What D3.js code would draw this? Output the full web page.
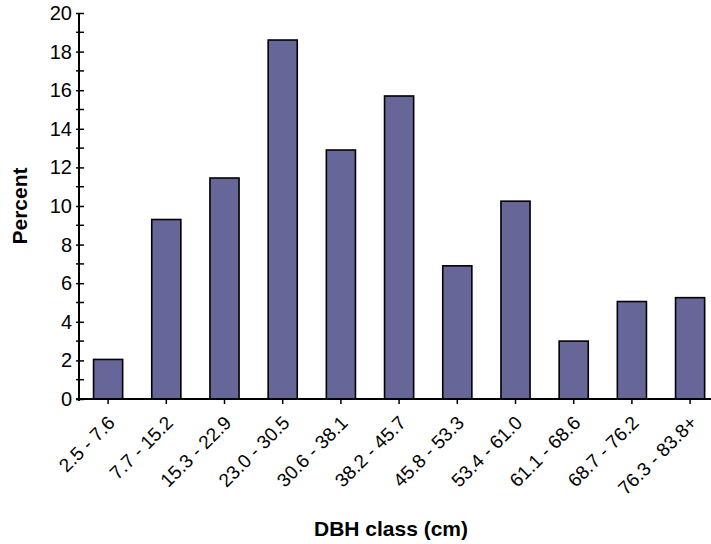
<!DOCTYPE html>
<html>
<head>
<meta charset="utf-8">
<script src="https://cdn.jsdelivr.net/npm/d3@7"></script>
<style>
  body { margin: 0; background: #fff; }
  svg { display: block; }
</style>
</head>
<body>
<div id="chart"></div>
<script>
const classes = ['2.5 - 7.6', '7.7 - 15.2', '15.3 - 22.9', '23.0 - 30.5', '30.6 - 38.1',
  '38.2 - 45.7', '45.8 - 53.3', '53.4 - 61.0', '61.1 - 68.6', '68.7 - 76.2', '76.3 - 83.8+'];
const percents = [2.05, 9.3, 11.45, 18.6, 12.9, 15.7, 6.9, 10.25, 3.0, 5.05, 5.25];
const majorTicks = [0, 2, 4, 6, 8, 10, 12, 14, 16, 18, 20];
const minorTicks = [1, 3, 5, 7, 9, 11, 13, 15, 17, 19];

const font = '"Liberation Sans", Arial, sans-serif';
const width = 711;
const height = 544;
const left = 79; // y axis position
const step = 58.2; // px per class

const svg = d3.select('#chart').append('svg')
  .attr('width', width)
  .attr('height', height)
  .attr('font-family', font);

const x = d3.scaleBand()
  .domain(classes)
  .range([left, left + step * classes.length])
  .paddingInner(0.5)
  .paddingOuter(0.25);

const y = d3.scaleLinear().domain([0, 20]).range([399, 13]);

// bars
svg.append('g').selectAll('rect')
  .data(classes)
  .join('rect')
  .attr('x', d => x(d))
  .attr('width', x.bandwidth())
  .attr('y', (d, i) => y(percents[i]))
  .attr('height', (d, i) => y(0) - y(percents[i]))
  .attr('fill', '#666699')
  .attr('stroke', '#000')
  .attr('stroke-width', 1.6);

// y axis
const yAxis = svg.append('g')
  .attr('transform', `translate(${left},0)`)
  .call(d3.axisLeft(y).tickValues(majorTicks).tickSize(3).tickFormat(d3.format('d')))
  .attr('font-family', font);
yAxis.select('.domain').attr('d', `M0,${y(20)}V${y(0) + 2}`).attr('stroke-width', 2);
yAxis.selectAll('.tick line').attr('x1', -3).attr('x2', 5).attr('stroke-width', 1.5);
yAxis.selectAll('.tick text')
  .style('font-size', '20px')
  .attr('fill', '#000')
  .attr('x', -7);
yAxis.selectAll('.minor')
  .data(minorTicks)
  .join('line')
  .attr('class', 'minor')
  .attr('x1', -3).attr('x2', 5)
  .attr('y1', d => y(d)).attr('y2', d => y(d))
  .attr('stroke', '#000')
  .attr('stroke-width', 1.5);

// x axis
const xAxis = svg.append('g')
  .attr('transform', `translate(0,${y(0)})`)
  .call(d3.axisBottom(x).tickSize(5))
  .attr('font-family', font);
xAxis.select('.domain').attr('d', `M${left - 3},0H${width}`).attr('stroke-width', 2);
xAxis.selectAll('.tick line').attr('stroke-width', 1.5);
xAxis.selectAll('.tick text')
  .style('font-size', '19px')
  .attr('fill', '#000')
  .attr('text-anchor', 'end')
  .attr('transform', 'translate(8,25) rotate(-45)')
  .attr('x', 0)
  .attr('y', 0)
  .attr('dy', 0);

// axis titles
svg.append('text')
  .attr('transform', `translate(27,${(y(0) + y(20)) / 2}) rotate(-90)`)
  .attr('text-anchor', 'middle')
  .style('font-size', '21px')
  .attr('font-weight', 'bold')
  .text('Percent');

svg.append('text')
  .attr('x', 391)
  .attr('y', 536)
  .attr('text-anchor', 'middle')
  .style('font-size', '21px')
  .attr('font-weight', 'bold')
  .text('DBH class (cm)');
</script>
</body>
</html>
